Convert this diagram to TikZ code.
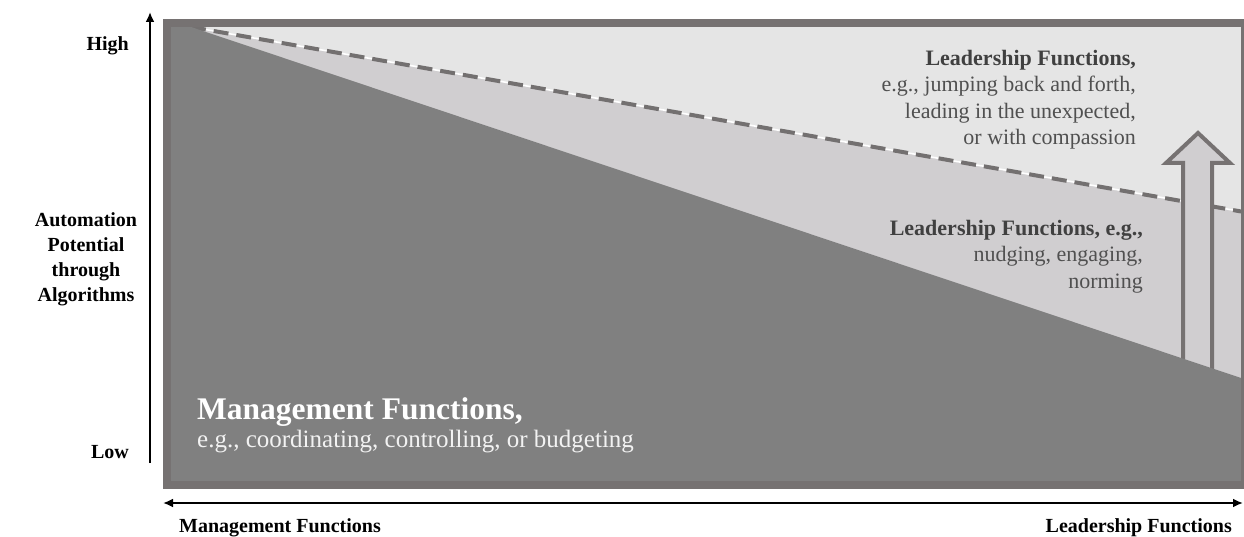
\documentclass[tikz,border=0pt]{standalone}
\usepackage{fontspec}
\setmainfont{Liberation Serif}
\usetikzlibrary{arrows.meta}
\definecolor{cLight}{HTML}{E5E5E5}
\definecolor{cMid}{HTML}{D0CED0}
\definecolor{cDark}{HTML}{808080}
\definecolor{cBorder}{HTML}{767272}
\definecolor{cDash}{HTML}{737070}
\definecolor{cTxtB}{HTML}{404040}
\definecolor{cTxtR}{HTML}{505050}
\tikzset{
  axislbl/.style={font=\bfseries\fontsize{20}{25}\selectfont, inner sep=0pt, text=black},
  axisline/.style={line width=2pt, black},
  leadtxt/.style={font=\fontsize{22}{26.5}\selectfont, inner sep=0pt, align=right, text=cTxtR},
  blockarrow/.style={draw=cBorder, line width=4pt, fill=cMid, line join=miter},
}
\begin{document}
\begin{tikzpicture}[x=1pt,y=-1pt]
\useasboundingbox (0,0) rectangle (1244,537);
% regions
\coordinate (apex) at (191,27);
\coordinate (dashend) at (1244,212);
\coordinate (darkend) at (1244,379);
\fill[cLight] (167,23) rectangle (1244,485);
\fill[cMid] (apex) -- (dashend) -- (1244,400) -- cycle;
% dashed line
\draw[white, line width=1.6pt] (apex) -- (dashend);
\draw[cDash, line width=4pt, dash pattern=on 15pt off 8pt] (apex) -- (dashend);
% block arrow
\draw[blockarrow] (1183,420) -- (1183,163) -- (1166,163) -- (1198,133) -- (1230,163) -- (1212,163) -- (1212,420);
% dark region
\fill[cDark] (167,23) -- (apex) -- (darkend) -- (1244,485) -- (167,485) -- cycle;
% frame
\draw[cBorder, line width=8pt] (167,23) rectangle (1245,485);
% axes
\coordinate (ybot) at (150,463);
\coordinate (ytop) at (150,12);
\draw[axisline, -{Latex[length=10pt,width=9pt]}] (ybot) -- (ytop);
\coordinate (xleft) at (163,503);
\coordinate (xright) at (1243,503);
\draw[axisline, {Latex[length=10pt,width=9pt]}-{Latex[length=10pt,width=9pt]}] (xleft) -- (xright);
% axis labels
\node[axislbl, anchor=base east] (high) at (129,51) {High};
\node[axislbl, anchor=base east] (low) at (129,458) {Low};
\node[axislbl, align=center] (auto) at (86,259) {Automation\\Potential\\through\\Algorithms};
\node[axislbl, anchor=base west] (mgmtx) at (179,532) {Management Functions};
\node[axislbl, anchor=base east] (leadx) at (1232,532) {Leadership Functions};
% management text
\node[inner sep=0pt, anchor=base west, text=white, font=\bfseries\fontsize{31.5}{34}\selectfont] (mgmt) at (197,419) {Management Functions,};
\node[inner sep=0pt, anchor=base west, text=white!95!black, font=\fontsize{25}{28}\selectfont] (mgmteg) at (197,447) {e.g., coordinating, controlling, or budgeting};
% leadership text top
\node[leadtxt, anchor=north east] (lead1) at (1136,50) {\textbf{\textcolor{cTxtB}{Leadership Functions,}}\\e.g., jumping back and forth,\\leading in the unexpected,\\or with compassion};
% leadership text middle
\node[leadtxt, anchor=north east] (lead2) at (1143,220) {\textbf{\textcolor{cTxtB}{Leadership Functions, e.g.,}}\\nudging, engaging,\\norming};
\end{tikzpicture}
\end{document}
